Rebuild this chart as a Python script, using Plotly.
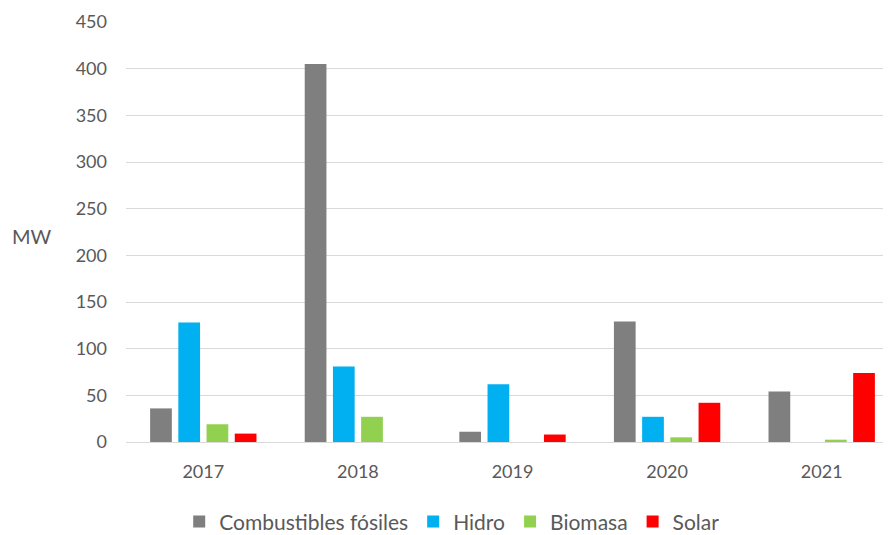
import plotly.graph_objects as go

years = ["2017", "2018", "2019", "2020", "2021"]
series_names = ["Combustibles fósiles", "Hidro", "Biomasa", "Solar"]
fosiles = [36, 405, 11, 129, 54]
hidro = [128, 81, 62, 27, 0]
biomasa = [19, 27, 0, 5, 2.5]
solar = [9, 0, 8, 42, 74]
colors = ["#7f7f7f", "#00b0f0", "#92d050", "#ff0000"]

fig = go.Figure()
for name, vals, c in zip(series_names, [fosiles, hidro, biomasa, solar], colors):
    fig.add_trace(go.Bar(x=years, y=vals, name=name, marker=dict(color=c, line=dict(width=0))))

font_family = "Lato, 'Open Sans', sans-serif"
fig.update_layout(
    width=891, height=535,
    margin=dict(l=118, r=0, t=14, b=101),
    paper_bgcolor="white", plot_bgcolor="white",
    barmode="group", bargap=0.27, bargroupgap=0.23,
    font=dict(family=font_family, size=18, color="#595959"),
    showlegend=True,
    legend=dict(orientation="h", x=0.422, xanchor="center", y=-0.19, yanchor="middle",
                font=dict(size=21, color="#595959"), itemwidth=30, traceorder="normal"),
    xaxis=dict(range=[-0.5, 4.5], showgrid=False, showline=True, linecolor="#d9d9d9",
               linewidth=1, ticks="", ticklabelstandoff=13, tickfont=dict(size=18, color="#595959")),
    yaxis=dict(range=[0, 450], dtick=50, showgrid=True, gridcolor="#d9d9d9", gridwidth=1,
               zeroline=False, showline=False, ticks="", ticklabelstandoff=18,
               tickfont=dict(size=18, color="#595959")),
)
fig.add_annotation(text="MW", xref="paper", yref="paper", x=-0.1216, y=0.49,
                   xanchor="center", yanchor="middle", showarrow=False,
                   font=dict(size=20, color="#595959", family=font_family))
fig.write_html("out.html")
